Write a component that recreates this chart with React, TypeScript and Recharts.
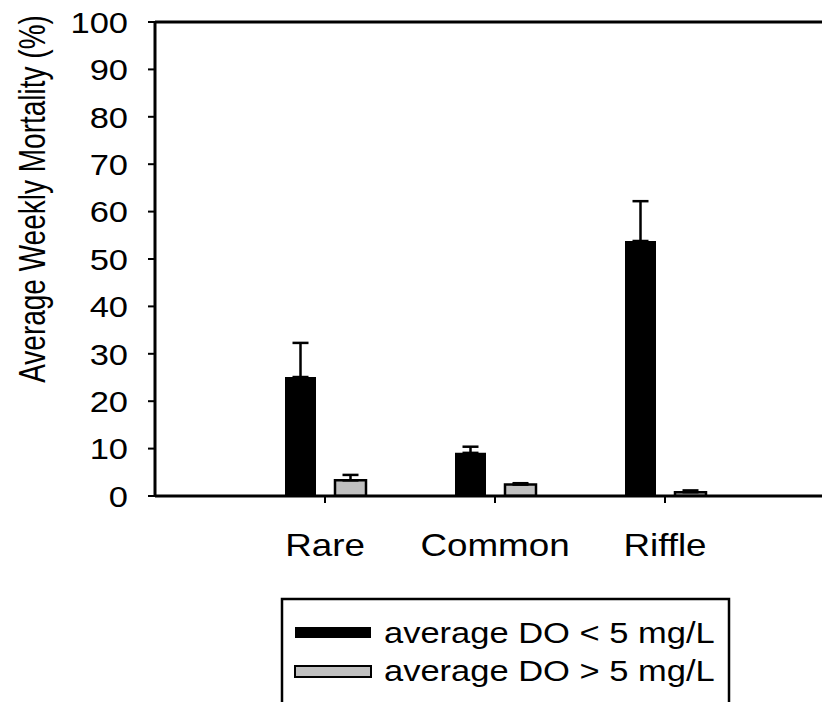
import React from "react";
import {
  BarChart,
  Bar,
  XAxis,
  YAxis,
  ErrorBar,
  ReferenceLine,
} from "recharts";

const categories = ["Rare", "Common", "Riffle"];
const lowDO = [25.1, 9.1, 53.8];
const lowDOErr = [7.2, 1.3, 8.4];
const highDO = [3.3, 2.4, 0.8];
const highDOErr = [1.15, 0.3, 0.38];
const seriesNames = ["average DO < 5 mg/L", "average DO > 5 mg/L"];
const yTicks = [0, 10, 20, 30, 40, 50, 60, 70, 80, 90, 100];

const FONT = '"Liberation Sans", Arial, sans-serif';
const STRETCH = 1.15;

const data = categories.map((name, i) => ({
  name,
  low: lowDO[i],
  lowErr: [0, lowDOErr[i]],
  high: highDO[i],
  highErr: [0, highDOErr[i]],
}));

const XTick = (props: any) => {
  const { x, payload } = props;
  return (
    <text
      transform={`translate(${x},556) scale(${STRETCH},1)`}
      textAnchor="middle"
      fontFamily={FONT}
      fontSize={32}
      fill="#000"
    >
      {payload.value}
    </text>
  );
};

const YTick = (props: any) => {
  const { y, payload } = props;
  return (
    <text
      transform={`translate(128,${y}) scale(${STRETCH},1)`}
      textAnchor="end"
      dy="0.36em"
      fontFamily={FONT}
      fontSize={30}
      fill="#000"
    >
      {payload.value}
    </text>
  );
};

const Legend = () => (
  <svg
    width={823}
    height={702}
    style={{ position: "absolute", left: 0, top: 0, pointerEvents: "none" }}
  >
    <rect x={282} y={599} width={447} height={120} fill="none" stroke="#000" strokeWidth={2.5} />
    {seriesNames.map((name, i) => (
      <g key={name}>
        <rect
          x={295}
          y={i === 0 ? 627 : 666}
          width={76}
          height={11}
          fill={i === 0 ? "#000" : "#c0c0c0"}
          stroke="#000"
          strokeWidth={i === 0 ? 0 : 2}
        />
        <text
          transform={`translate(384,${i === 0 ? 643 : 681}) scale(${STRETCH},1)`}
          fontFamily={FONT}
          fontSize={30}
          fill="#000"
        >
          {name}
        </text>
      </g>
    ))}
  </svg>
);

export default function App() {
  return (
    <div style={{ position: "absolute", left: 0, top: 0, width: 823, height: 702, background: "#fff" }}>
      <BarChart
        width={823}
        height={702}
        data={data}
        margin={{ top: 22, right: 1, bottom: 146, left: 0 }}
        barSize={31}
        barGap={19}
      >
        <XAxis
          dataKey="name"
          padding={{ left: 85, right: 72 }}
          axisLine={{ stroke: "#000", strokeWidth: 3 }}
          tickLine={{ stroke: "#000", strokeWidth: 2 }}
          tickSize={7}
          height={60}
          tick={<XTick />}
          interval={0}
        />
        <YAxis
          domain={[0, 100]}
          ticks={yTicks}
          width={155}
          axisLine={{ stroke: "#000", strokeWidth: 3 }}
          tickLine={{ stroke: "#000", strokeWidth: 2 }}
          tickSize={7}
          tick={<YTick />}
          interval={0}
          allowDataOverflow
        />
        <ReferenceLine y={100} stroke="#000" strokeWidth={3} />
        <Bar dataKey="low" fill="#000" isAnimationActive={false}>
          <ErrorBar dataKey="lowErr" direction="y" width={8} stroke="#000" strokeWidth={2.5} />
        </Bar>
        <Bar dataKey="high" fill="#c0c0c0" stroke="#000" strokeWidth={2.5} isAnimationActive={false}>
          <ErrorBar dataKey="highErr" direction="y" width={8} stroke="#000" strokeWidth={2.5} />
        </Bar>
      </BarChart>
      <svg
        width={823}
        height={702}
        style={{ position: "absolute", left: 0, top: 0, pointerEvents: "none" }}
      >
        <text
          transform={`translate(45,199) scale(1.3,1) rotate(-90)`}
          textAnchor="middle"
          fontFamily={FONT}
          fontSize={28}
          fill="#000"
        >
          Average Weekly Mortality (%)
        </text>
      </svg>
      <Legend />
    </div>
  );
}
